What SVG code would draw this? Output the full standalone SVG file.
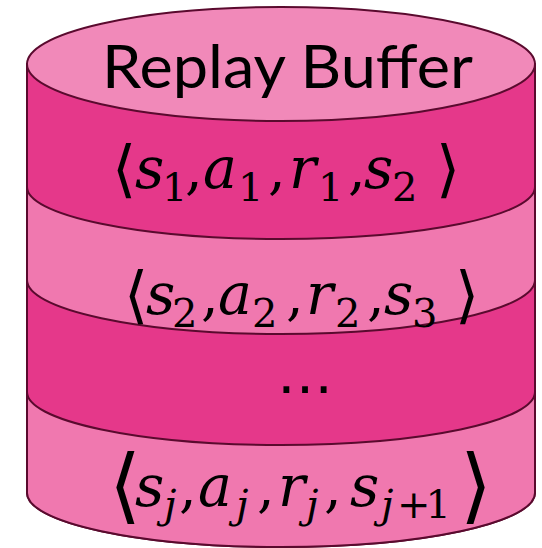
<svg xmlns="http://www.w3.org/2000/svg" width="542" height="548" viewBox="0 0 542 548">
<style>
.edge{stroke:#5a0a2e;stroke-width:2;stroke-linejoin:round}
.dark{fill:#e5388a}
.light{fill:#f078af}
.top{fill:#f189b9}
.title{font-family:Lato,"Liberation Sans",sans-serif;font-size:60px;fill:#000}
.m{font-family:"DejaVu Serif",serif;fill:#000}
.i{font-style:italic;font-size:57px}
.sub{font-size:40px}
.num{font-size:56px}
.br{font-family:"DejaVu Sans",sans-serif;font-size:62px}
.brl{font-family:"DejaVu Sans",sans-serif;font-size:82px}
</style>
<rect width="542" height="548" fill="#fff"/>
<g id="cylinder">
<path id="body" class="edge dark" d="M27,64 L27,493 A254,54 0 0 0 535,493 L535,64 Z"/>
<path id="band2" class="edge light" d="M27,187 A254,52 0 0 0 535,187 L535,280 A254,54 0 0 1 27,280 Z"/>
<path id="band4" class="edge light" d="M27,392 A254,53 0 0 0 535,392 L535,493 A254,54 0 0 1 27,493 Z"/>
<ellipse id="lid" class="edge top" cx="281" cy="64" rx="254" ry="57"/>
</g>
<g id="label-title">
<text class="title" x="102" y="88" textLength="371" lengthAdjust="spacingAndGlyphs">Replay Buffer</text>
</g>
<g id="row1">
<text class="m"><tspan class="br" x="112" y="190">⟨</tspan><tspan class="i" x="135" y="188">s</tspan><tspan class="sub" x="162" y="201">1</tspan><tspan class="num" x="185" y="188">,</tspan><tspan class="i" x="203" y="188">a</tspan><tspan class="sub" x="238" y="201">1</tspan><tspan class="num" x="268" y="188">,</tspan><tspan class="i" x="289" y="188">r</tspan><tspan class="sub" x="318" y="201">1</tspan><tspan class="num" x="348" y="188">,</tspan><tspan class="i" x="364" y="188">s</tspan><tspan class="sub" x="392" y="201">2</tspan><tspan class="br" x="436" y="190">⟩</tspan></text>
</g>
<g id="row2">
<text class="m"><tspan class="br" x="124" y="316">⟨</tspan><tspan class="i" x="146" y="314">s</tspan><tspan class="sub" x="172" y="327">2</tspan><tspan class="num" x="201" y="314">,</tspan><tspan class="i" x="218" y="314">a</tspan><tspan class="sub" x="252" y="327">2</tspan><tspan class="num" x="286" y="314">,</tspan><tspan class="i" x="306" y="314">r</tspan><tspan class="sub" x="335" y="327">2</tspan><tspan class="num" x="367" y="314">,</tspan><tspan class="i" x="384" y="314">s</tspan><tspan class="sub" x="412" y="327">3</tspan><tspan class="br" x="455" y="316">⟩</tspan></text>
</g>
<g id="row3">
<text x="305" y="393" text-anchor="middle" font-family="DejaVu Sans,sans-serif" font-size="56">…</text>
</g>
<g id="row4">
<text class="m"><tspan class="brl" x="109" y="513">⟨</tspan><tspan class="i" x="135" y="506">s</tspan><tspan class="sub" font-style="italic" x="164" y="518">j</tspan><tspan class="num" x="179" y="506">,</tspan><tspan class="i" x="198" y="506">a</tspan><tspan class="sub" font-style="italic" x="236" y="518">j</tspan><tspan class="num" x="257" y="506">,</tspan><tspan class="i" x="278" y="506">r</tspan><tspan class="sub" font-style="italic" x="306" y="518">j</tspan><tspan class="num" x="324" y="506">,</tspan><tspan class="i" x="350" y="506">s</tspan><tspan class="sub" font-style="italic" x="381" y="518">j</tspan><tspan class="sub" x="397" y="518" letter-spacing="-5">+1</tspan><tspan class="brl" x="460" y="513">⟩</tspan></text>
</g>
</svg>
